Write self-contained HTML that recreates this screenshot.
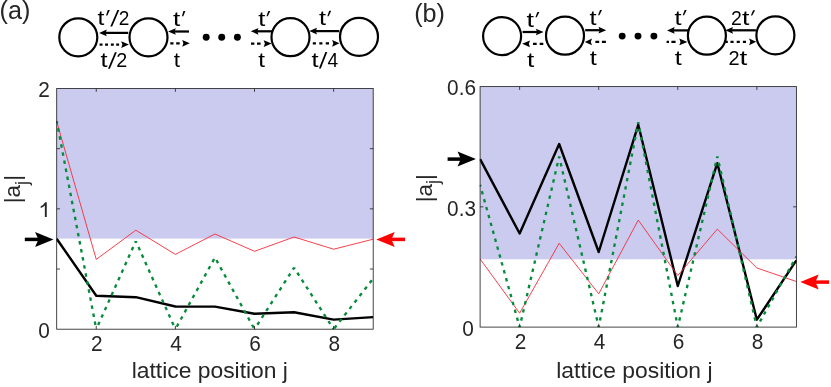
<!DOCTYPE html>
<html><head><meta charset="utf-8"><title>figure</title>
<style>
html,body{margin:0;padding:0;background:#fff;}
body{width:831px;height:387px;overflow:hidden;font-family:"Liberation Sans",sans-serif;}
svg{display:block;}
text{-webkit-font-smoothing:antialiased;}
svg{will-change:transform;opacity:0.999;}
</style></head>
<body>
<svg width="831" height="387" viewBox="0 0 831 387">
<rect x="0" y="0" width="831" height="387" fill="#fff"/>
<rect x="56.7" y="88.5" width="316.5" height="150.1" fill="#cbcbef"/>
<clipPath id="ca"><rect x="56.2" y="88.0" width="317.5" height="241.7"/></clipPath>
<g clip-path="url(#ca)">
<polyline points="56.70,238.80 96.26,295.70 135.82,297.20 175.39,306.50 214.95,306.60 254.51,313.70 294.07,312.20 333.64,319.60 373.20,317.10" fill="none" stroke="#000" stroke-width="2.4" stroke-linejoin="round" />
<polyline points="56.70,121.50 96.26,259.40 135.82,230.20 175.39,254.40 214.95,234.00 254.51,251.30 294.07,237.00 333.64,249.20 373.20,239.20" fill="none" stroke="#f62d3a" stroke-width="0.9" stroke-linejoin="miter" />
<line x1="56.70" y1="121.00" x2="96.26" y2="329.20" stroke="#078a3c" stroke-width="2.35" stroke-dasharray="3.5 4.700" stroke-dashoffset="0.85"/>
<line x1="96.26" y1="329.20" x2="135.82" y2="241.20" stroke="#078a3c" stroke-width="2.35" stroke-dasharray="3.5 4.700" stroke-dashoffset="3.67"/>
<line x1="135.82" y1="241.20" x2="175.39" y2="329.20" stroke="#078a3c" stroke-width="2.35" stroke-dasharray="3.5 4.700" stroke-dashoffset="1.75"/>
<line x1="175.39" y1="329.20" x2="214.95" y2="257.50" stroke="#078a3c" stroke-width="2.35" stroke-dasharray="3.5 4.700" stroke-dashoffset="5.36"/>
<line x1="214.95" y1="257.50" x2="254.51" y2="329.20" stroke="#078a3c" stroke-width="2.35" stroke-dasharray="3.5 4.700" stroke-dashoffset="5.25"/>
<line x1="254.51" y1="329.20" x2="294.07" y2="267.70" stroke="#078a3c" stroke-width="2.35" stroke-dasharray="3.5 4.700" stroke-dashoffset="2.92"/>
<line x1="294.07" y1="267.70" x2="333.64" y2="329.20" stroke="#078a3c" stroke-width="2.35" stroke-dasharray="3.5 4.700" stroke-dashoffset="2.20"/>
<line x1="333.64" y1="329.20" x2="373.20" y2="278.60" stroke="#078a3c" stroke-width="2.35" stroke-dasharray="3.5 4.700" stroke-dashoffset="7.02"/>
</g>
<rect x="56.7" y="88.5" width="316.5" height="240.7" fill="none" stroke="#262626" stroke-width="0.85"/><line x1="96.2625" y1="329.2" x2="96.2625" y2="325.9" stroke="#262626" stroke-width="0.85"/><line x1="96.2625" y1="88.5" x2="96.2625" y2="91.8" stroke="#262626" stroke-width="0.85"/><line x1="175.3875" y1="329.2" x2="175.3875" y2="325.9" stroke="#262626" stroke-width="0.85"/><line x1="175.3875" y1="88.5" x2="175.3875" y2="91.8" stroke="#262626" stroke-width="0.85"/><line x1="254.5125" y1="329.2" x2="254.5125" y2="325.9" stroke="#262626" stroke-width="0.85"/><line x1="254.5125" y1="88.5" x2="254.5125" y2="91.8" stroke="#262626" stroke-width="0.85"/><line x1="333.6375" y1="329.2" x2="333.6375" y2="325.9" stroke="#262626" stroke-width="0.85"/><line x1="333.6375" y1="88.5" x2="333.6375" y2="91.8" stroke="#262626" stroke-width="0.85"/><line x1="56.7" y1="269.025" x2="60.0" y2="269.025" stroke="#262626" stroke-width="0.85"/><line x1="373.2" y1="269.025" x2="369.9" y2="269.025" stroke="#262626" stroke-width="0.85"/><line x1="56.7" y1="208.85" x2="60.0" y2="208.85" stroke="#262626" stroke-width="0.85"/><line x1="373.2" y1="208.85" x2="369.9" y2="208.85" stroke="#262626" stroke-width="0.85"/><line x1="56.7" y1="148.675" x2="60.0" y2="148.675" stroke="#262626" stroke-width="0.85"/><line x1="373.2" y1="148.675" x2="369.9" y2="148.675" stroke="#262626" stroke-width="0.85"/>
<text transform="translate(96.8625,351) scale(0.93,1)" x="0" y="0" font-size="22.4" font-family="Liberation Sans, sans-serif" fill="#262626" text-anchor="middle">2</text>
<text transform="translate(175.98749999999998,351) scale(0.93,1)" x="0" y="0" font-size="22.4" font-family="Liberation Sans, sans-serif" fill="#262626" text-anchor="middle">4</text>
<text transform="translate(255.11249999999998,351) scale(0.93,1)" x="0" y="0" font-size="22.4" font-family="Liberation Sans, sans-serif" fill="#262626" text-anchor="middle">6</text>
<text transform="translate(334.2375,351) scale(0.93,1)" x="0" y="0" font-size="22.4" font-family="Liberation Sans, sans-serif" fill="#262626" text-anchor="middle">8</text>
<text transform="translate(49.9,338.0) scale(0.93,1)" x="0" y="0" font-size="22.4" font-family="Liberation Sans, sans-serif" fill="#262626" text-anchor="end">0</text>
<path d="M44.85 202.2 L46.75 202.2 L46.75 217.0 L44.85 217.0 L44.85 205.6 Q43.2 207.3 40.7 208.0 L40.7 206.3 Q43.6 205.0 45.2 202.2 Z" fill="#262626"/>
<text transform="translate(49.9,97.0) scale(0.93,1)" x="0" y="0" font-size="22.4" font-family="Liberation Sans, sans-serif" fill="#262626" text-anchor="end">2</text>
<text x="209.8" y="378.3" font-size="22.85" font-family="Liberation Sans, sans-serif" fill="#262626" text-anchor="middle" >lattice position j</text>
<g transform="translate(20.3,189.1) rotate(-90)"><text x="0" y="0" font-size="22.5" font-family="Liberation Sans, sans-serif" fill="#262626" text-anchor="middle">|a<tspan font-size="18.5" dy="7.6">j</tspan><tspan dy="-7.6">|</tspan></text></g>
<text x="-0.4" y="19.2" font-size="25.2" font-family="Liberation Sans, sans-serif" fill="#262626" text-anchor="start" >(a)</text>
<line x1="24.80" y1="239.40" x2="39.40" y2="239.40" stroke="#000" stroke-width="3.5"/><path d="M53.50 239.40 L35.10 231.90 L38.40 239.40 L35.10 246.90 Z" fill="#000"/>
<line x1="405.00" y1="239.40" x2="390.40" y2="239.40" stroke="#ff0000" stroke-width="3.5"/><path d="M376.30 239.40 L394.70 231.90 L391.40 239.40 L394.70 246.90 Z" fill="#ff0000"/>
<circle cx="78.3" cy="37.3" r="19.0" fill="#fff" stroke="#000" stroke-width="2.2"/>
<circle cx="148.5" cy="37.3" r="19.0" fill="#fff" stroke="#000" stroke-width="2.2"/>
<circle cx="290.5" cy="37.2" r="19.0" fill="#fff" stroke="#000" stroke-width="2.2"/>
<circle cx="359.0" cy="36.8" r="19.0" fill="#fff" stroke="#000" stroke-width="2.2"/>
<line x1="128.20" y1="32.90" x2="105.10" y2="32.90" stroke="#000" stroke-width="2.25"/><path d="M99.10 32.90 L106.80 29.55 L105.60 32.90 L106.80 36.25 Z" fill="#000"/>
<line x1="189.00" y1="31.50" x2="174.10" y2="31.50" stroke="#000" stroke-width="2.25"/><path d="M168.10 31.50 L175.80 28.15 L174.60 31.50 L175.80 34.85 Z" fill="#000"/>
<line x1="272.10" y1="31.30" x2="256.80" y2="31.30" stroke="#000" stroke-width="2.25"/><path d="M250.80 31.30 L258.50 27.95 L257.30 31.30 L258.50 34.65 Z" fill="#000"/>
<line x1="339.30" y1="31.10" x2="315.30" y2="31.10" stroke="#000" stroke-width="2.25"/><path d="M309.30 31.10 L317.00 27.75 L315.80 31.10 L317.00 34.45 Z" fill="#000"/>
<path d="M99.60 44.60H102.50M105.10 44.60H108.00M110.90 44.60H113.80M116.20 44.60H119.10" stroke="#000" stroke-width="2.2" fill="none"/><path d="M128.90 44.60 L121.20 41.25 L122.40 44.60 L121.20 47.95 Z" fill="#000"/>
<path d="M170.30 43.30H173.50M176.20 43.30H179.70" stroke="#000" stroke-width="2.2" fill="none"/><path d="M189.80 43.30 L182.20 39.95 L183.40 43.30 L182.20 46.65 Z" fill="#000"/>
<path d="M251.00 43.60H254.40M257.00 43.60H260.60" stroke="#000" stroke-width="2.2" fill="none"/><path d="M271.70 43.60 L263.70 40.25 L264.90 43.60 L263.70 46.95 Z" fill="#000"/>
<path d="M312.80 43.30H315.90M319.30 43.30H322.40M325.80 43.30H329.00" stroke="#000" stroke-width="2.2" fill="none"/><path d="M339.50 43.30 L332.10 39.95 L333.30 43.30 L332.10 46.65 Z" fill="#000"/>
<circle cx="206.2" cy="37.2" r="3.45" fill="#000"/>
<circle cx="221.7" cy="37.2" r="3.45" fill="#000"/>
<circle cx="237.4" cy="37.2" r="3.45" fill="#000"/>
<text x="97.63" y="24.60" font-size="21.0" font-family="Liberation Sans, sans-serif" fill="#000" textLength="6.85" lengthAdjust="spacingAndGlyphs">t</text>
<path d="M110.30 26.50 L112.20 26.50 L119.30 10.00 L117.40 10.00 Z" fill="#000"/>
<text x="118.84" y="24.60" font-size="21.0" font-family="Liberation Sans, sans-serif" fill="#000" textLength="10.62" lengthAdjust="spacingAndGlyphs">2</text>
<path d="M107.80 10.00 L109.80 10.00 L107.35 15.40 L106.00 15.40 Z" fill="#000"/>
<text x="100.61" y="66.80" font-size="21.0" font-family="Liberation Sans, sans-serif" fill="#000" textLength="7.07" lengthAdjust="spacingAndGlyphs">t</text>
<path d="M108.00 68.70 L109.90 68.70 L116.80 52.20 L114.90 52.20 Z" fill="#000"/>
<text x="116.31" y="66.80" font-size="21.0" font-family="Liberation Sans, sans-serif" fill="#000" textLength="10.99" lengthAdjust="spacingAndGlyphs">2</text>
<text x="172.90" y="25.50" font-size="21.0" font-family="Liberation Sans, sans-serif" fill="#000" textLength="7.29" lengthAdjust="spacingAndGlyphs">t</text>
<path d="M183.40 10.90 L185.40 10.90 L183.25 16.30 L181.90 16.30 Z" fill="#000"/>
<text x="173.86" y="66.50" font-size="21.0" font-family="Liberation Sans, sans-serif" fill="#000" textLength="6.31" lengthAdjust="spacingAndGlyphs">t</text>
<text x="258.31" y="25.50" font-size="21.0" font-family="Liberation Sans, sans-serif" fill="#000" textLength="7.07" lengthAdjust="spacingAndGlyphs">t</text>
<path d="M268.30 10.90 L270.30 10.90 L267.75 16.30 L266.40 16.30 Z" fill="#000"/>
<text x="258.33" y="66.50" font-size="21.0" font-family="Liberation Sans, sans-serif" fill="#000" textLength="6.75" lengthAdjust="spacingAndGlyphs">t</text>
<text x="318.91" y="25.40" font-size="21.0" font-family="Liberation Sans, sans-serif" fill="#000" textLength="7.07" lengthAdjust="spacingAndGlyphs">t</text>
<path d="M329.20 10.80 L331.20 10.80 L328.65 16.20 L327.30 16.20 Z" fill="#000"/>
<text x="311.61" y="66.50" font-size="21.0" font-family="Liberation Sans, sans-serif" fill="#000" textLength="7.07" lengthAdjust="spacingAndGlyphs">t</text>
<path d="M318.90 68.40 L320.80 68.40 L327.30 51.90 L325.40 51.90 Z" fill="#000"/>
<text x="327.46" y="66.50" font-size="21.0" font-family="Liberation Sans, sans-serif" fill="#000" textLength="10.71" lengthAdjust="spacingAndGlyphs">4</text>
<rect x="480.1" y="86.6" width="316.29999999999995" height="172.70000000000002" fill="#cbcbef"/>
<clipPath id="cb"><rect x="479.6" y="86.1" width="317.29999999999995" height="241.50000000000003"/></clipPath>
<g clip-path="url(#cb)">
<polyline points="480.10,159.10 519.64,233.50 559.17,144.00 598.71,252.00 638.25,124.80 677.79,286.00 717.33,163.20 756.86,319.70 796.40,260.30" fill="none" stroke="#000" stroke-width="2.4" stroke-linejoin="round" />
<polyline points="480.10,259.00 519.64,313.20 559.17,243.30 598.71,293.80 638.25,220.10 677.79,275.50 717.33,229.10 756.86,268.00 796.40,281.50" fill="none" stroke="#f62d3a" stroke-width="0.9" stroke-linejoin="miter" />
<line x1="480.10" y1="184.90" x2="519.64" y2="327.10" stroke="#078a3c" stroke-width="2.35" stroke-dasharray="3.4 4.800" stroke-dashoffset="1.70"/>
<line x1="519.64" y1="327.10" x2="559.17" y2="156.60" stroke="#078a3c" stroke-width="2.35" stroke-dasharray="3.4 4.934" stroke-dashoffset="1.70"/>
<line x1="559.17" y1="156.60" x2="598.71" y2="327.10" stroke="#078a3c" stroke-width="2.35" stroke-dasharray="3.4 4.934" stroke-dashoffset="1.70"/>
<line x1="598.71" y1="327.10" x2="638.25" y2="122.30" stroke="#078a3c" stroke-width="2.35" stroke-dasharray="3.4 4.943" stroke-dashoffset="1.70"/>
<line x1="638.25" y1="122.30" x2="677.79" y2="327.10" stroke="#078a3c" stroke-width="2.35" stroke-dasharray="3.4 4.943" stroke-dashoffset="1.70"/>
<line x1="677.79" y1="327.10" x2="717.33" y2="156.40" stroke="#078a3c" stroke-width="2.35" stroke-dasharray="3.4 4.944" stroke-dashoffset="1.70"/>
<line x1="717.33" y1="156.40" x2="756.86" y2="327.10" stroke="#078a3c" stroke-width="2.35" stroke-dasharray="3.4 4.944" stroke-dashoffset="1.70"/>
<line x1="756.86" y1="327.10" x2="796.40" y2="256.50" stroke="#078a3c" stroke-width="2.35" stroke-dasharray="3.4 4.692" stroke-dashoffset="1.70"/>
</g>
<rect x="480.1" y="86.6" width="316.29999999999995" height="240.50000000000003" fill="none" stroke="#262626" stroke-width="0.85"/><line x1="519.6375" y1="327.1" x2="519.6375" y2="323.8" stroke="#262626" stroke-width="0.85"/><line x1="519.6375" y1="86.6" x2="519.6375" y2="89.89999999999999" stroke="#262626" stroke-width="0.85"/><line x1="598.7125" y1="327.1" x2="598.7125" y2="323.8" stroke="#262626" stroke-width="0.85"/><line x1="598.7125" y1="86.6" x2="598.7125" y2="89.89999999999999" stroke="#262626" stroke-width="0.85"/><line x1="677.7875" y1="327.1" x2="677.7875" y2="323.8" stroke="#262626" stroke-width="0.85"/><line x1="677.7875" y1="86.6" x2="677.7875" y2="89.89999999999999" stroke="#262626" stroke-width="0.85"/><line x1="756.8625" y1="327.1" x2="756.8625" y2="323.8" stroke="#262626" stroke-width="0.85"/><line x1="756.8625" y1="86.6" x2="756.8625" y2="89.89999999999999" stroke="#262626" stroke-width="0.85"/><line x1="480.1" y1="206.85000000000002" x2="483.40000000000003" y2="206.85000000000002" stroke="#262626" stroke-width="0.85"/><line x1="796.4" y1="206.85000000000002" x2="793.1" y2="206.85000000000002" stroke="#262626" stroke-width="0.85"/>
<text transform="translate(520.4375,349) scale(0.93,1)" x="0" y="0" font-size="22.4" font-family="Liberation Sans, sans-serif" fill="#262626" text-anchor="middle">2</text>
<text transform="translate(599.5124999999999,349) scale(0.93,1)" x="0" y="0" font-size="22.4" font-family="Liberation Sans, sans-serif" fill="#262626" text-anchor="middle">4</text>
<text transform="translate(678.5875,349) scale(0.93,1)" x="0" y="0" font-size="22.4" font-family="Liberation Sans, sans-serif" fill="#262626" text-anchor="middle">6</text>
<text transform="translate(757.6624999999999,349) scale(0.93,1)" x="0" y="0" font-size="22.4" font-family="Liberation Sans, sans-serif" fill="#262626" text-anchor="middle">8</text>
<text transform="translate(473.9,335.6) scale(0.93,1)" x="0" y="0" font-size="22.4" font-family="Liberation Sans, sans-serif" fill="#262626" text-anchor="end">0</text>
<text transform="translate(476.0,215.5) scale(0.93,1)" x="0" y="0" font-size="22.4" font-family="Liberation Sans, sans-serif" fill="#262626" text-anchor="end">0.3</text>
<text transform="translate(476.0,95.1) scale(0.93,1)" x="0" y="0" font-size="22.4" font-family="Liberation Sans, sans-serif" fill="#262626" text-anchor="end">0.6</text>
<text x="634.4" y="378.0" font-size="22.85" font-family="Liberation Sans, sans-serif" fill="#262626" text-anchor="middle" >lattice position j</text>
<g transform="translate(431.7,188.2) rotate(-90)"><text x="0" y="0" font-size="22.5" font-family="Liberation Sans, sans-serif" fill="#262626" text-anchor="middle">|a<tspan font-size="18.5" dy="7.6">j</tspan><tspan dy="-7.6">|</tspan></text></g>
<text x="414.2" y="22.3" font-size="25.2" font-family="Liberation Sans, sans-serif" fill="#262626" text-anchor="start" >(b)</text>
<line x1="447.60" y1="159.10" x2="461.80" y2="159.10" stroke="#000" stroke-width="3.5"/><path d="M475.90 159.10 L457.50 151.60 L460.80 159.10 L457.50 166.60 Z" fill="#000"/>
<line x1="829.00" y1="282.10" x2="814.40" y2="282.10" stroke="#ff0000" stroke-width="3.5"/><path d="M800.30 282.10 L818.70 274.60 L815.40 282.10 L818.70 289.60 Z" fill="#ff0000"/>
<circle cx="502.1" cy="36.1" r="19.0" fill="#fff" stroke="#000" stroke-width="2.2"/>
<circle cx="565.0" cy="35.7" r="19.0" fill="#fff" stroke="#000" stroke-width="2.2"/>
<circle cx="706.9" cy="35.7" r="19.0" fill="#fff" stroke="#000" stroke-width="2.2"/>
<circle cx="775.4" cy="35.3" r="19.0" fill="#fff" stroke="#000" stroke-width="2.2"/>
<line x1="522.60" y1="32.00" x2="537.60" y2="32.00" stroke="#000" stroke-width="2.25"/><path d="M543.60 32.00 L535.90 28.65 L537.10 32.00 L535.90 35.35 Z" fill="#000"/>
<line x1="585.20" y1="30.20" x2="600.20" y2="30.20" stroke="#000" stroke-width="2.25"/><path d="M606.20 30.20 L598.50 26.85 L599.70 30.20 L598.50 33.55 Z" fill="#000"/>
<line x1="689.00" y1="30.40" x2="673.00" y2="30.40" stroke="#000" stroke-width="2.25"/><path d="M667.00 30.40 L674.70 27.05 L673.50 30.40 L674.70 33.75 Z" fill="#000"/>
<line x1="755.90" y1="30.30" x2="731.30" y2="30.30" stroke="#000" stroke-width="2.25"/><path d="M725.30 30.30 L733.00 26.95 L731.80 30.30 L733.00 33.65 Z" fill="#000"/>
<path d="M533.00 43.80H536.70M539.70 43.80H543.30" stroke="#000" stroke-width="2.2" fill="none"/><path d="M522.20 43.80 L530.00 40.45 L528.80 43.80 L530.00 47.15 Z" fill="#000"/>
<path d="M595.40 41.90H599.20M601.90 41.90H605.90" stroke="#000" stroke-width="2.2" fill="none"/><path d="M584.80 41.90 L592.00 38.55 L590.80 41.90 L592.00 45.25 Z" fill="#000"/>
<path d="M666.60 41.90H669.00M671.40 41.90H675.60" stroke="#000" stroke-width="2.2" fill="none"/><path d="M687.40 41.90 L679.30 38.55 L680.50 41.90 L679.30 45.25 Z" fill="#000"/>
<path d="M725.80 41.80H727.80M730.50 41.80H733.60M736.70 41.80H739.80M742.90 41.80H746.00" stroke="#000" stroke-width="2.2" fill="none"/><path d="M756.20 41.80 L749.10 38.45 L750.30 41.80 L749.10 45.15 Z" fill="#000"/>
<circle cx="622.2" cy="36.1" r="3.45" fill="#000"/>
<circle cx="638.0" cy="36.1" r="3.45" fill="#000"/>
<circle cx="653.9" cy="36.1" r="3.45" fill="#000"/>
<text x="526.59" y="26.50" font-size="21.0" font-family="Liberation Sans, sans-serif" fill="#000" textLength="7.51" lengthAdjust="spacingAndGlyphs">t</text>
<path d="M537.40 11.90 L539.40 11.90 L536.75 17.30 L535.40 17.30 Z" fill="#000"/>
<text x="527.00" y="67.00" font-size="21.0" font-family="Liberation Sans, sans-serif" fill="#000" textLength="7.29" lengthAdjust="spacingAndGlyphs">t</text>
<text x="589.51" y="24.50" font-size="21.0" font-family="Liberation Sans, sans-serif" fill="#000" textLength="7.07" lengthAdjust="spacingAndGlyphs">t</text>
<path d="M600.00 9.90 L602.00 9.90 L599.35 15.30 L598.00 15.30 Z" fill="#000"/>
<text x="589.81" y="65.40" font-size="21.0" font-family="Liberation Sans, sans-serif" fill="#000" textLength="7.07" lengthAdjust="spacingAndGlyphs">t</text>
<text x="674.51" y="24.50" font-size="21.0" font-family="Liberation Sans, sans-serif" fill="#000" textLength="7.07" lengthAdjust="spacingAndGlyphs">t</text>
<path d="M684.70 9.90 L686.70 9.90 L684.05 15.30 L682.70 15.30 Z" fill="#000"/>
<text x="674.81" y="64.80" font-size="21.0" font-family="Liberation Sans, sans-serif" fill="#000" textLength="7.07" lengthAdjust="spacingAndGlyphs">t</text>
<text x="731.02" y="24.80" font-size="21.0" font-family="Liberation Sans, sans-serif" fill="#000" textLength="10.87" lengthAdjust="spacingAndGlyphs">2</text>
<text x="741.90" y="24.80" font-size="21.0" font-family="Liberation Sans, sans-serif" fill="#000" textLength="7.40" lengthAdjust="spacingAndGlyphs">t</text>
<path d="M753.10 10.20 L755.10 10.20 L752.25 15.60 L750.90 15.60 Z" fill="#000"/>
<text x="728.40" y="65.40" font-size="21.0" font-family="Liberation Sans, sans-serif" fill="#000" textLength="11.11" lengthAdjust="spacingAndGlyphs">2</text>
<text x="739.47" y="65.40" font-size="21.0" font-family="Liberation Sans, sans-serif" fill="#000" textLength="7.83" lengthAdjust="spacingAndGlyphs">t</text>
</svg>
</body></html>
